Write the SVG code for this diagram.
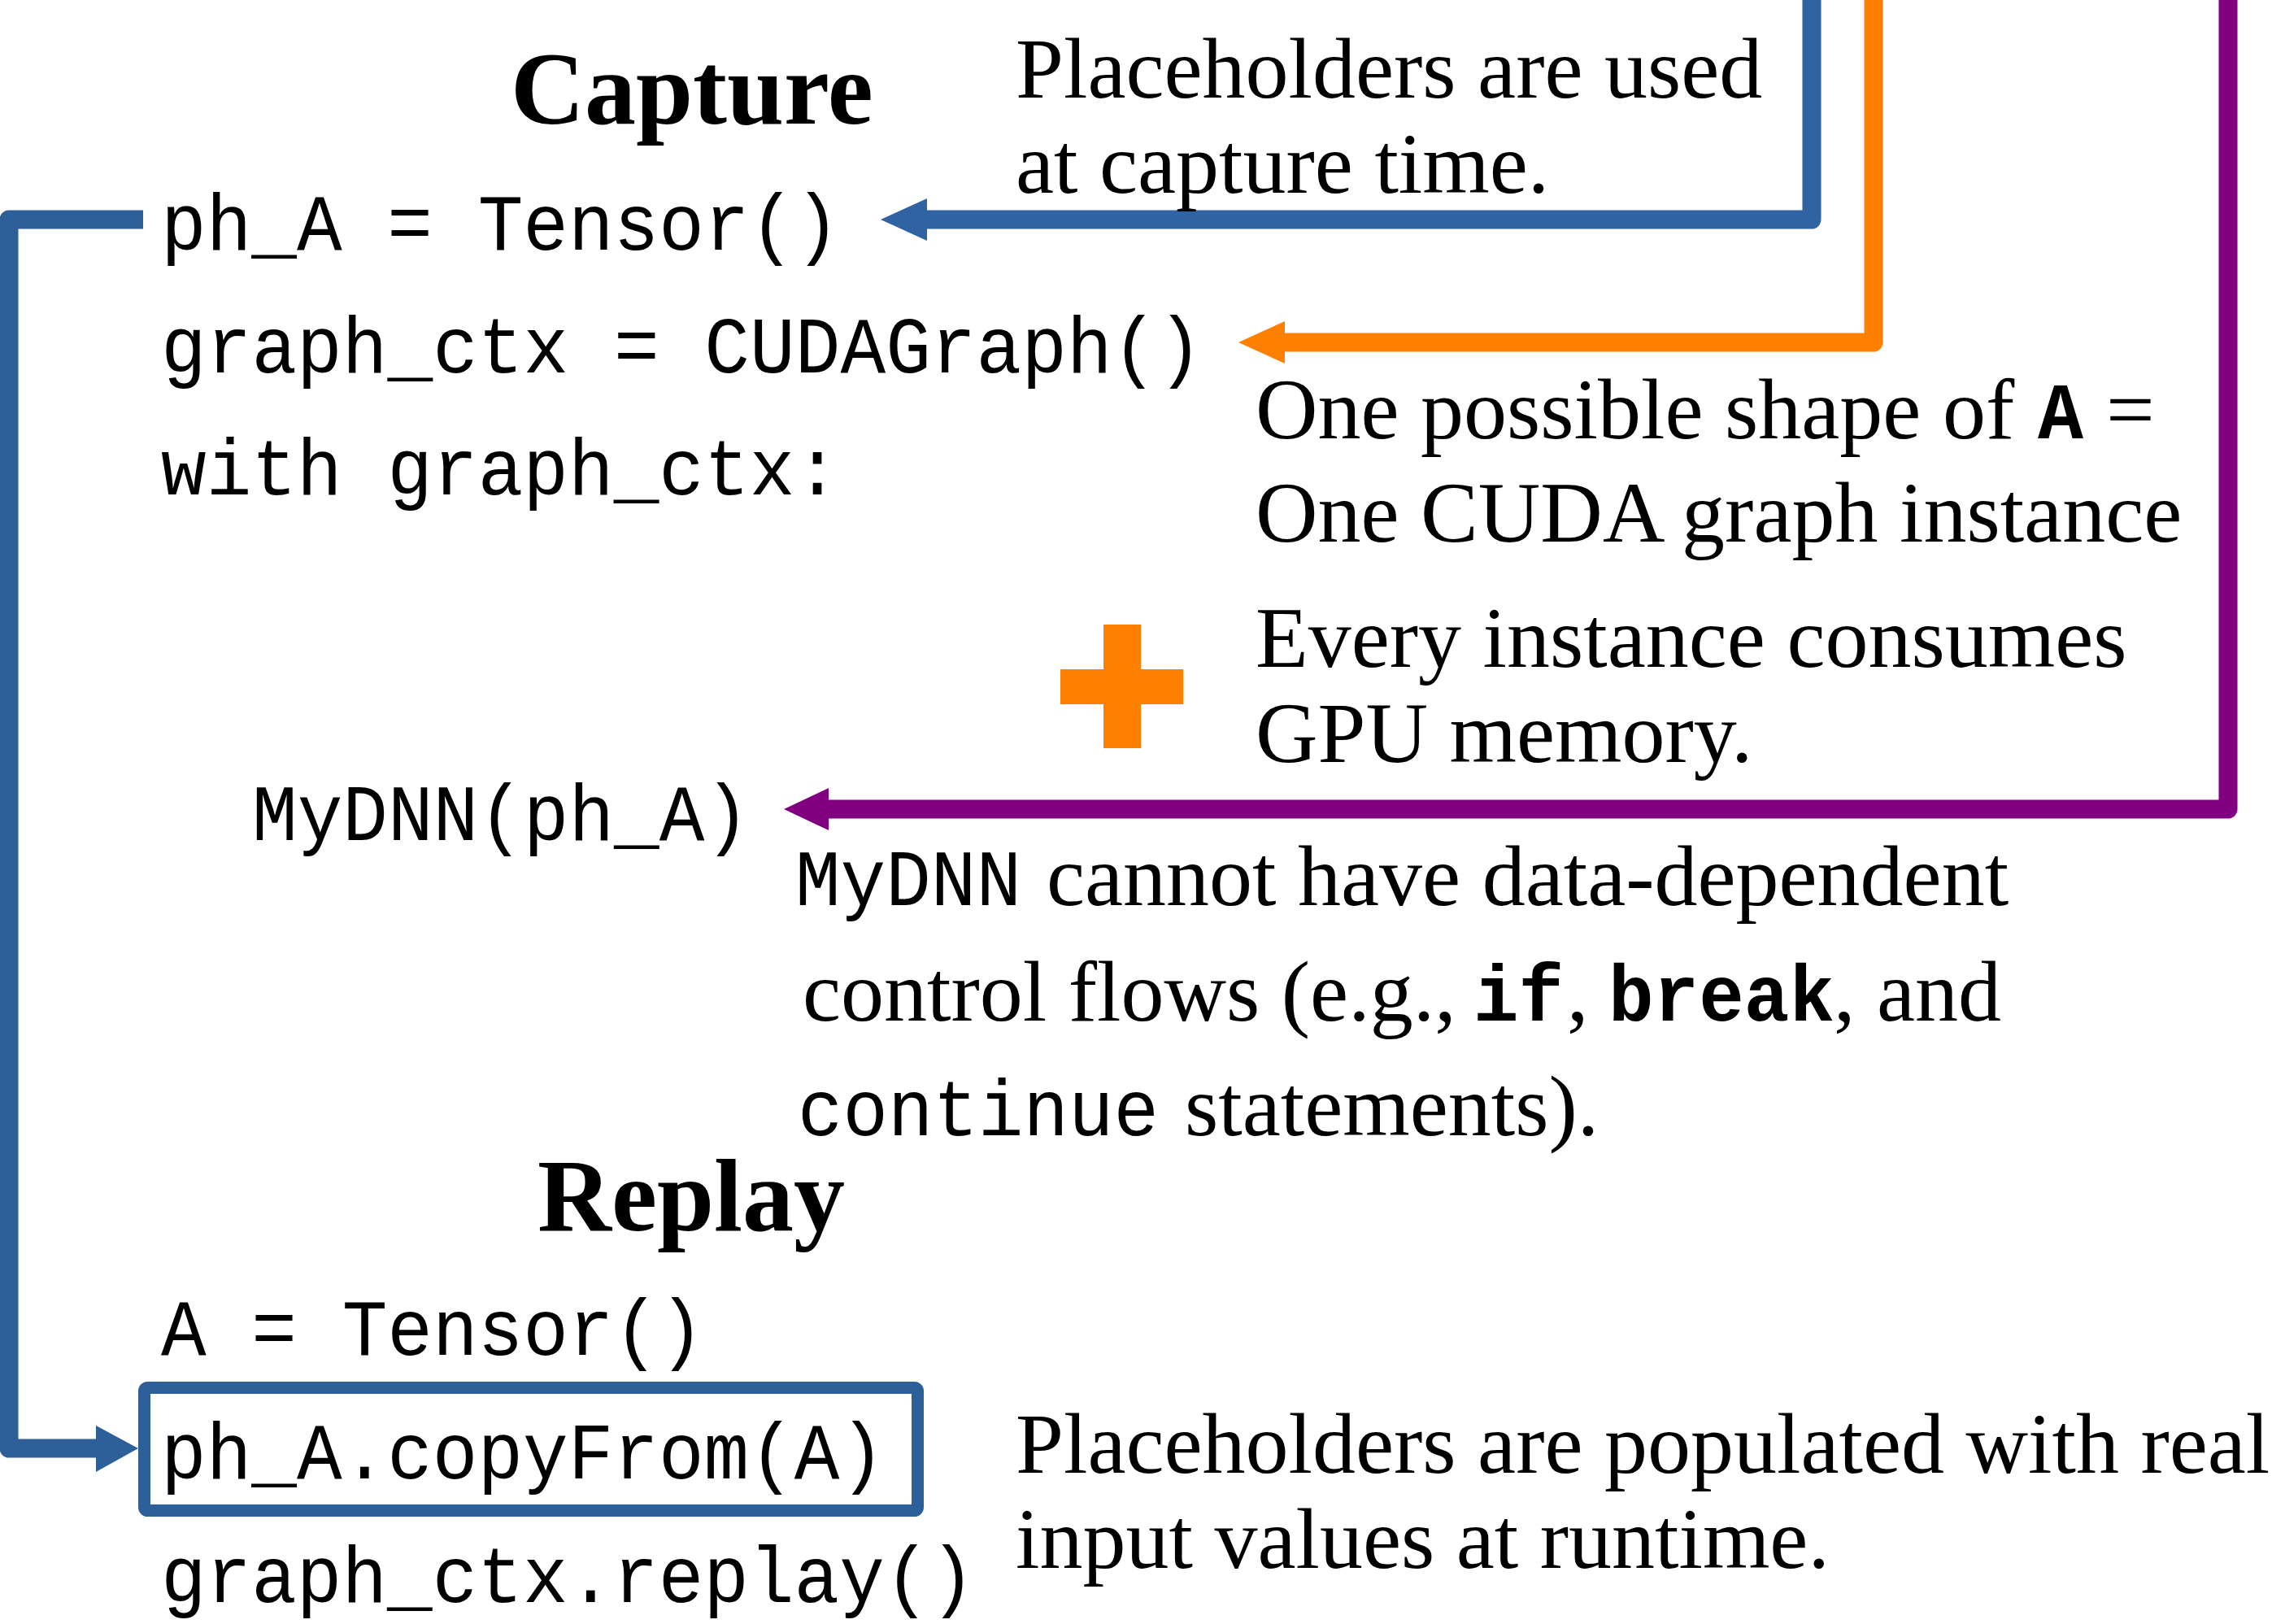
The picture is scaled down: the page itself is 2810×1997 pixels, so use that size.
<svg xmlns="http://www.w3.org/2000/svg" width="2810" height="1997" viewBox="0 0 2810 1997">
  <style>
    .txt { font-family: "Liberation Serif", "Times New Roman", serif; font-size: 106px; fill: #000; }
    .title { font-family: "Liberation Serif", "Times New Roman", serif; font-size: 126px; font-weight: bold; fill: #000; }
    .code { font-family: "Liberation Mono", "Courier New", monospace; font-size: 98px; fill: #000; }
    .codeb { font-family: "Liberation Mono", "Courier New", monospace; font-size: 98px; font-weight: bold; fill: #000; }
    .wire { fill: none; stroke-width: 23; stroke-linejoin: round; }
    .blue { stroke: #3063A2; }
    .orange { stroke: #FF8000; }
    .purple { stroke: #800080; }
  </style>
  <rect width="2810" height="1997" fill="#fff"/>

  <!-- connectors: wires with their arrowheads -->
  <g id="connectors">
    <path class="wire blue" d="M2228,0 V270 H1138"/>
    <polygon points="1083,270 1140,244 1140,296" fill="#3063A2"/>
    <path class="wire orange" d="M2304,0 V421 H1578"/>
    <polygon points="1523,421 1580,395 1580,447" fill="#FF8000"/>
    <path class="wire purple" d="M2740,0 V995 H1017"/>
    <polygon points="964,995 1019,969 1019,1021" fill="#800080"/>
    <path class="wire blue" d="M176,270 H11 V1781 H120" stroke="#2D5F99" style="stroke:#2D5F99"/>
    <polygon points="170,1781 118,1753 118,1810" fill="#2D5F99"/>
  </g>

  <!-- capture section -->
  <g id="capture-title">
    <text class="title" x="628" y="152">Capture</text>
  </g>
  <g id="capture-note">
    <text class="txt" x="1249" y="120">Placeholders are used</text>
    <text class="txt" x="1249" y="237">at capture time.</text>
  </g>
  <g id="code-ph-a">
    <text class="code" x="198" y="307" textLength="835" lengthAdjust="spacingAndGlyphs">ph_A = Tensor()</text>
  </g>
  <g id="code-graph-ctx">
    <text class="code" x="198" y="458" textLength="1281" lengthAdjust="spacingAndGlyphs">graph_ctx = CUDAGraph()</text>
  </g>
  <g id="code-with">
    <text class="code" x="198" y="608" textLength="835" lengthAdjust="spacingAndGlyphs">with graph_ctx:</text>
  </g>
  <g id="shape-note">
    <text class="txt" x="1544" y="539">One possible shape of</text>
    <text class="codeb" x="2506" y="539" textLength="56" lengthAdjust="spacingAndGlyphs">A</text>
    <text class="txt" x="2590" y="539">=</text>
    <text class="txt" x="1544" y="666">One CUDA graph instance</text>
  </g>
  <g id="plus">
    <rect x="1357" y="768" width="46" height="152" fill="#FF8000"/>
    <rect x="1304" y="823" width="151" height="43" fill="#FF8000"/>
  </g>
  <g id="memory-note">
    <text class="txt" x="1544" y="820">Every instance consumes</text>
    <text class="txt" x="1544" y="937">GPU memory.</text>
  </g>
  <g id="code-mydnn">
    <text class="code" x="310" y="1033" textLength="612" lengthAdjust="spacingAndGlyphs">MyDNN(ph_A)</text>
  </g>
  <g id="control-flow-note">
    <text class="code" x="978" y="1113" textLength="278" lengthAdjust="spacingAndGlyphs">MyDNN</text>
    <text class="txt" x="1287" y="1113">cannot have data-dependent</text>
    <text class="txt" x="987" y="1255">control flows (e.g.,</text>
    <text class="codeb" x="1812" y="1255" textLength="111" lengthAdjust="spacingAndGlyphs">if</text>
    <text class="txt" x="1927" y="1255">,</text>
    <text class="codeb" x="1978" y="1255" textLength="278" lengthAdjust="spacingAndGlyphs">break</text>
    <text class="txt" x="2255" y="1255">, and</text>
    <text class="code" x="981" y="1396" textLength="444" lengthAdjust="spacingAndGlyphs">continue</text>
    <text class="txt" x="1457" y="1396">statements).</text>
  </g>

  <!-- replay section -->
  <g id="replay-title">
    <text class="title" x="661" y="1513">Replay</text>
  </g>
  <g id="code-a">
    <text class="code" x="198" y="1666" textLength="668" lengthAdjust="spacingAndGlyphs">A = Tensor()</text>
  </g>
  <g id="code-copy">
    <rect x="177.5" y="1706.5" width="951" height="151" rx="4" fill="none" stroke="#2D5F99" stroke-width="15"/>
    <text class="code" x="198" y="1818" textLength="890" lengthAdjust="spacingAndGlyphs">ph_A.copyFrom(A)</text>
  </g>
  <g id="code-replay">
    <text class="code" x="198" y="1970" textLength="1001" lengthAdjust="spacingAndGlyphs">graph_ctx.replay()</text>
  </g>
  <g id="runtime-note">
    <text class="txt" x="1249" y="1811">Placeholders are populated with real</text>
    <text class="txt" x="1249" y="1928">input values at runtime.</text>
  </g>
</svg>
